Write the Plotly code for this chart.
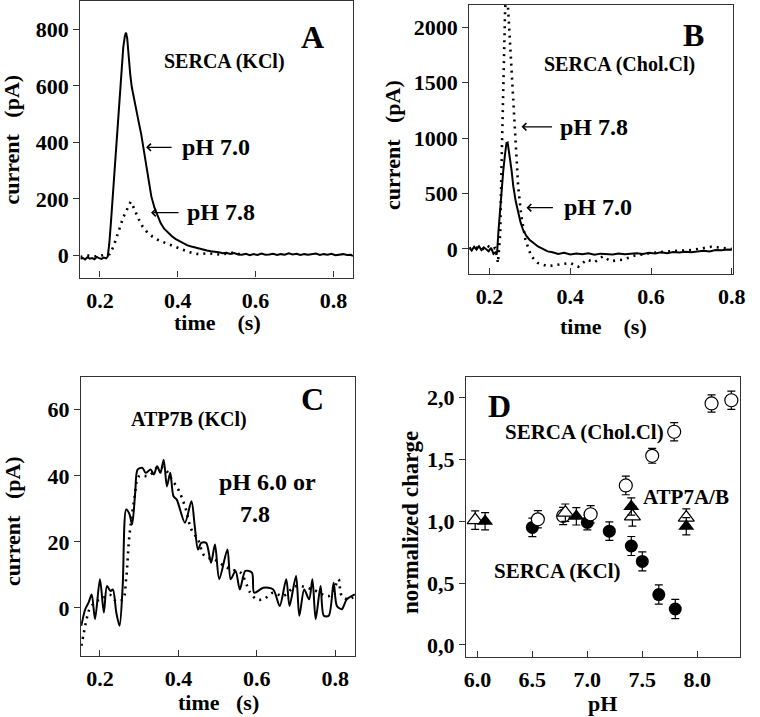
import plotly.graph_objects as go

# ---------------- data ----------------
# Panel A : SERCA (KCl), pH 7.0 (solid) and pH 7.8 (dotted)
A_t_70 = [0.150, 0.156, 0.162, 0.168, 0.174, 0.180, 0.186, 0.192, 0.198, 0.204,
          0.210, 0.216, 0.220, 0.224, 0.228, 0.232, 0.236, 0.240, 0.244, 0.248,
          0.252, 0.256, 0.260, 0.264, 0.267, 0.270, 0.274, 0.278, 0.282, 0.288,
          0.294, 0.300, 0.306, 0.312, 0.318, 0.325, 0.332, 0.340, 0.348, 0.356,
          0.365, 0.375, 0.385, 0.395, 0.405, 0.415, 0.425, 0.435, 0.445, 0.455,
          0.465, 0.475, 0.485, 0.495, 0.505, 0.515, 0.525, 0.535, 0.545, 0.555,
          0.565, 0.575, 0.585, 0.595, 0.605, 0.615, 0.625, 0.635, 0.645, 0.655,
          0.665, 0.675, 0.685, 0.695, 0.705, 0.715, 0.725, 0.735, 0.745, 0.755,
          0.765, 0.775, 0.785, 0.795, 0.805, 0.815, 0.825, 0.835, 0.845, 0.850]
A_i_70 = [-12, -8, -14, -6, -11, -9, -13, -5, -9, -12,
          -7, -10, -4, 40, 110, 190, 260, 340, 420, 510,
          600, 670, 735, 775, 788, 770, 700, 640, 595, 550,
          508, 470, 430, 380, 325, 260, 210, 170, 140, 115,
          95, 80, 68, 58, 50, 42, 36, 32, 28, 24,
          22, 18, 15, 14, 12, 8, 10, 6, 9, 4,
          3, 6, 1, 5, 2, 7, 3, 4, 6, 2,
          5, 3, 8, 4, 6, 2, 5, 3, 4, 7,
          2, 5, 3, 6, 1, 4, 5, 2, 3, -2]
A_t_78 = [0.150, 0.170, 0.190, 0.210, 0.225, 0.235, 0.245, 0.252, 0.260, 0.268,
          0.274, 0.279, 0.285, 0.293, 0.300, 0.310, 0.320, 0.335, 0.350, 0.369,
          0.390, 0.411, 0.430, 0.453, 0.480, 0.510, 0.540, 0.570]
A_i_78 = [-5, 0, -3, 2, 5, 32, 70, 102, 135, 161,
          180, 190, 175, 149, 128, 102, 85, 67, 55, 44,
          32, 20, 12, 5, 8, 3, 10, 2]

# Panel B : SERCA (Chol.Cl), pH 7.0 (solid) and pH 7.8 (dotted)
B_t_70 = [0.150, 0.156, 0.162, 0.168, 0.174, 0.180, 0.186, 0.192, 0.198, 0.204,
          0.210, 0.215, 0.219, 0.222, 0.226, 0.230, 0.234, 0.238, 0.242, 0.245,
          0.248, 0.251, 0.255, 0.259, 0.265, 0.271, 0.277, 0.283, 0.291, 0.299,
          0.310, 0.320, 0.332, 0.344, 0.356, 0.370, 0.385, 0.400, 0.415, 0.430,
          0.445, 0.460, 0.475, 0.490, 0.505, 0.520, 0.535, 0.550, 0.565, 0.580,
          0.595, 0.610, 0.625, 0.640, 0.655, 0.670, 0.685, 0.700, 0.715, 0.730,
          0.745, 0.760, 0.775, 0.790, 0.800]
B_i_70 = [10, -15, 20, -5, 25, -10, 15, 0, -20, 10,
          -45, -30, -30, 150, 350, 520, 700, 840, 955, 960,
          900, 805, 700, 564, 430, 324, 240, 174, 120, 84,
          50, 23, 0, -22, -30, -45, -35, -50, -40, -48,
          -38, -52, -42, -45, -50, -40, -48, -42, -38, -45,
          -35, -40, -30, -38, -28, -32, -25, -30, -20, -15,
          -22, -10, -12, -5, -8]
B_t_78 = [0.150, 0.165, 0.180, 0.195, 0.205, 0.2145, 0.221, 0.2266, 0.2307, 0.2348,
          0.2387, 0.2425, 0.247, 0.2533, 0.259, 0.2647, 0.271, 0.279, 0.289, 0.3035,
          0.3197, 0.344, 0.368, 0.400, 0.420, 0.441, 0.460, 0.481, 0.500, 0.530,
          0.560, 0.600, 0.650, 0.700, 0.750, 0.800]
B_i_78 = [5, 20, -10, 30, 0, 9, -126, 144, 894, 1645,
          2156, 2400, 2096, 1645, 1255, 894, 564, 294, 84, -66,
          -126, -156, -141, -126, -160, -96, -120, -66, -110, -96,
          -60, -36, -20, -10, 20, 0]

# Panel C : ATP7B (KCl), pH 6.0 (solid) or 7.8 (dotted)
C_t_60 = [0.1525, 0.1625, 0.171, 0.179, 0.1875, 0.2, 0.21, 0.218, 0.227, 0.233,
          0.2417, 0.25, 0.258, 0.267, 0.275, 0.282, 0.29, 0.296, 0.3083, 0.3167,
          0.3292, 0.3375, 0.3458, 0.3542, 0.3625, 0.3708, 0.3792, 0.3875, 0.3958, 0.4167,
          0.4333, 0.4417, 0.45, 0.4583, 0.4708, 0.4833, 0.4933, 0.5042, 0.525, 0.5333,
          0.5458, 0.5567, 0.5708, 0.5875, 0.5933, 0.6167, 0.6417, 0.6583, 0.675, 0.6833,
          0.7, 0.7083, 0.7208, 0.7333, 0.7417, 0.75, 0.7625, 0.7708, 0.7833, 0.7958,
          0.8042, 0.8167, 0.8292, 0.85]
C_i_60 = [-5.4, -0.4, 1.6, 4.1, -3.4, 8.7, -1.4, 6.6, 5.1, 5.6,
          -1.4, -5.4, 6.6, 29.8, 28.5, 25.3, 35.0, 41.9, 42.4, 40.9,
          41.9, 40.4, 42.9, 40.9, 44.9, 36.8, 40.9, 33.8, 32.8, 25.8,
          32.3, 24.8, 17.7, 19.7, 19.7, 13.7, 19.2, 8.7, 17.7, 8.7,
          11.2, 5.6, 11.2, 10.7, 4.6, 6.1, 5.6, 0.6, 8.7, 0.6,
          9.7, -2.4, 5.6, 2.6, 8.7, -3.4, 6.6, -2.4, -2.4, 7.6,
          0.6, -0.4, 2.6, 4.1]
C_t_78 = [0.1525, 0.1583, 0.1667, 0.175, 0.1917, 0.2083, 0.225, 0.2417, 0.2583, 0.2667,
          0.275, 0.2875, 0.3, 0.325, 0.35, 0.3667, 0.3833, 0.4, 0.4167, 0.4333,
          0.45, 0.4667, 0.4917, 0.5167, 0.5333, 0.5583, 0.5833, 0.6, 0.6167, 0.6417,
          0.6667, 0.7, 0.7417, 0.7833, 0.8, 0.8083, 0.8167, 0.8333, 0.85]
C_i_78 = [-11.5, -8, -3, 0, 2, 3, 4, 2, 2.6, 8.7,
          21.7, 32.8, 39.9, 40, 42.9, 41.9, 38.9, 35.8, 30.8, 23.7,
          20.7, 15.7, 14.7, 12.7, 11.7, 10.7, 4.6, 2.6, 2.6, 4.6,
          3.6, 6.6, 5.6, 3.6, 6.6, 8.7, 3.6, 2.6, 3.6]

# Panel D : normalized charge vs pH
D_ph_serca_chol = [6.55, 6.78, 7.03, 7.35, 7.59, 7.79, 8.13, 8.31]
D_q_serca_chol = [1.016, 1.043, 1.057, 1.29, 1.53, 1.725, 1.954, 1.98]
D_e_serca_chol = [0.07, 0.07, 0.07, 0.075, 0.06, 0.074, 0.07, 0.074]

D_ph_serca_kcl = [6.5, 7.0, 7.2, 7.4, 7.5, 7.65, 7.8]
D_q_serca_kcl = [0.95, 0.99, 0.92, 0.80, 0.675, 0.407, 0.29]
D_e_serca_kcl = [0.075, 0.06, 0.075, 0.077, 0.077, 0.078, 0.078]

D_ph_atp_open = [5.98, 6.8, 7.41, 7.9]
D_q_atp_open = [1.01, 1.07, 1.04, 1.03]
D_e_atp_open = [0.075, 0.07, 0.08, 0.07]

D_ph_atp_fill = [6.07, 6.9, 7.4, 7.9]
D_q_atp_fill = [1.0, 1.04, 1.12, 0.96]
D_e_atp_fill = [0.07, 0.07, 0.07, 0.07]

# tick labels
TIME_TICKS = [0.2, 0.4, 0.6, 0.8]
TIME_TICKTEXT = ["0.2", "0.4", "0.6", "0.8"]
A_YTICKS = [0, 200, 400, 600, 800]
B_YTICKS = [0, 500, 1000, 1500, 2000]
C_YTICKS = [0, 20, 40, 60]
D_XTICKS = [6.0, 6.5, 7.0, 7.5, 8.0]
D_XTICKTEXT = ["6.0", "6.5", "7.0", "7.5", "8.0"]
D_YTICKS = [0.0, 0.5, 1.0, 1.5, 2.0]
D_YTICKTEXT = ["0,0", "0,5", "1,0", "1,5", "2,0"]

# ---------------- figure ----------------
W, H = 760, 717
FONT = "Liberation Serif, Times New Roman, serif"


def fx(x):
    return x / W


def fy(y):
    return 1 - y / H


solid = dict(color="black", width=2)
dotted = dict(color="black", width=2.6, dash="2px,5px")

fig = go.Figure()
fig.add_trace(go.Scatter(x=A_t_78, y=A_i_78, mode="lines", line=dotted, xaxis="x", yaxis="y"))
fig.add_trace(go.Scatter(x=A_t_70, y=A_i_70, mode="lines", line=solid, xaxis="x", yaxis="y"))
fig.add_trace(go.Scatter(x=B_t_78, y=B_i_78, mode="lines", line=dotted, xaxis="x2", yaxis="y2"))
fig.add_trace(go.Scatter(x=B_t_70, y=B_i_70, mode="lines", line=solid, xaxis="x2", yaxis="y2"))
fig.add_trace(go.Scatter(x=C_t_78, y=C_i_78, mode="lines", line=dict(dotted, shape="spline"),
                         xaxis="x3", yaxis="y3"))
fig.add_trace(go.Scatter(x=C_t_60, y=C_i_60, mode="lines", line=dict(solid, shape="spline", smoothing=0.8),
                         xaxis="x3", yaxis="y3"))


def err(arr):
    return dict(type="data", array=arr, visible=True, color="black", thickness=1.2, width=4)


fig.add_trace(go.Scatter(x=D_ph_serca_kcl, y=D_q_serca_kcl, mode="markers", error_y=err(D_e_serca_kcl),
                         marker=dict(symbol="circle", size=13, color="black"), xaxis="x4", yaxis="y4"))
fig.add_trace(go.Scatter(x=D_ph_serca_chol, y=D_q_serca_chol, mode="markers", error_y=err(D_e_serca_chol),
                         marker=dict(symbol="circle", size=13, color="white", line=dict(color="black", width=1.2)),
                         xaxis="x4", yaxis="y4"))
fig.add_trace(go.Scatter(x=D_ph_atp_open, y=D_q_atp_open, mode="markers", error_y=err(D_e_atp_open),
                         marker=dict(symbol="triangle-up", size=14, color="white", line=dict(color="black", width=1.2)),
                         xaxis="x4", yaxis="y4"))
fig.add_trace(go.Scatter(x=D_ph_atp_fill, y=D_q_atp_fill, mode="markers", error_y=err(D_e_atp_fill),
                         marker=dict(symbol="triangle-up", size=14, color="black"), xaxis="x4", yaxis="y4"))

TICKFONT = dict(family=FONT, size=22, color="black", weight="bold")
LINE_C = "#333333"


def xax(domain, rng, anchor, tickvals, ticktext):
    return dict(domain=domain, range=rng, anchor=anchor, showline=True, mirror=True, linecolor=LINE_C,
                linewidth=1.3, showgrid=False, zeroline=False, ticks="inside", ticklen=6, tickwidth=1.2,
                tickcolor=LINE_C, tickvals=tickvals, ticktext=ticktext, tickfont=TICKFONT, ticklabelstandoff=3)


def yax(domain, rng, anchor, tickvals, ticktext=None):
    d = dict(domain=domain, range=rng, anchor=anchor, showline=True, mirror=True, linecolor=LINE_C,
             linewidth=1.3, showgrid=False, zeroline=False, ticks="outside", ticklen=6, tickwidth=1.2,
             tickcolor=LINE_C, tickvals=tickvals, tickfont=TICKFONT)
    if ticktext is not None:
        d["ticktext"] = ticktext
    return d


fig.update_layout(
    width=W, height=H, autosize=False, showlegend=False,
    margin=dict(l=0, r=0, t=0, b=0),
    paper_bgcolor="white", plot_bgcolor="white",
    xaxis=xax([fx(80), fx(358)], [0.15, 0.85], "y", TIME_TICKS, TIME_TICKTEXT),
    yaxis=yax([fy(278), fy(1)], [-78, 900], "x", A_YTICKS),
    xaxis2=xax([fx(476.7), fx(745.7)], [0.15, 0.803], "y2", TIME_TICKS, TIME_TICKTEXT),
    yaxis2=yax([fy(274.3), fy(4.7)], [-225, 2204], "x2", B_YTICKS),
    xaxis3=xax([fx(80.7), fx(360)], [0.152, 0.85], "y3", TIME_TICKS, TIME_TICKTEXT),
    yaxis3=yax([fy(656.7), fy(377.3)], [-14.5, 70], "x3", C_YTICKS),
    xaxis4=xax([fx(473.3), fx(753)], [5.896, 8.39], "y4", D_XTICKS, D_XTICKTEXT),
    yaxis4=yax([fy(657.7), fy(377.3)], [-0.097, 2.17], "x4", D_YTICKS, D_YTICKTEXT),
)


def txt(x, y, s, size, angle=0):
    return dict(x=fx(x), y=fy(y), xref="paper", yref="paper", text=f"<b>{s}</b>", showarrow=False,
                textangle=angle, xanchor="center", yanchor="middle",
                font=dict(family=FONT, size=size, color="black"))


def arrow(xtip, ytip, xtail, ytail):
    return dict(x=fx(xtip), y=fy(ytip), xref="paper", yref="paper", text="", showarrow=True,
                ax=xtail - xtip, ay=ytail - ytip, axref="pixel", ayref="pixel",
                arrowhead=4, arrowsize=1.1, arrowwidth=1.3, arrowcolor="black", standoff=0, startstandoff=0)


ann = [
    # panel A
    txt(317, 37, "A", 32), txt(227, 62, "SERCA (KCl)", 20),
    txt(218, 147, "pH 7.0", 24), arrow(147, 147.5, 174, 147.5),
    txt(223, 212, "pH 7.8", 24), arrow(152, 213, 181, 213),
    txt(10, 140, "current&nbsp;&nbsp; (pA)", 22, -90), txt(220, 323, "time&nbsp;&nbsp;&nbsp; (s)", 22),
    # panel B
    txt(705, 35, "B", 32), txt(630, 65, "SERCA (Chol.Cl)", 20),
    txt(604, 127, "pH 7.8", 24), arrow(530, 127, 562, 127),
    txt(608, 207, "pH 7.0", 24), arrow(535, 208, 563, 208),
    txt(399, 145, "current&nbsp;&nbsp; (pA)", 22, -90), txt(614, 327, "time&nbsp;&nbsp;&nbsp; (s)", 22),
    # panel C
    txt(317, 400, "C", 32), txt(191, 420, "ATP7B (KCl)", 20),
    txt(271, 483, "pH 6.0 or", 24), txt(258, 515, "7.8", 24),
    txt(10, 522, "current&nbsp;&nbsp; (pA)", 22, -90), txt(221, 703, "time&nbsp;&nbsp; (s)", 22),
    # panel D
    txt(508, 407, "D", 32), txt(594, 433, "SERCA (Chol.Cl)", 21),
    txt(698, 498, "ATP7A/B", 21), txt(567, 572, "SERCA (KCl)", 21),
    txt(417, 523, "normalized charge", 23, -90), txt(613, 704, "pH", 22),
]
fig.update_layout(annotations=ann)

fig.write_html("out.html", config={"displayModeBar": False},
               post_script="document.body.style.margin='0';document.body.style.padding='0';"
                           "document.body.style.overflow='hidden';")
